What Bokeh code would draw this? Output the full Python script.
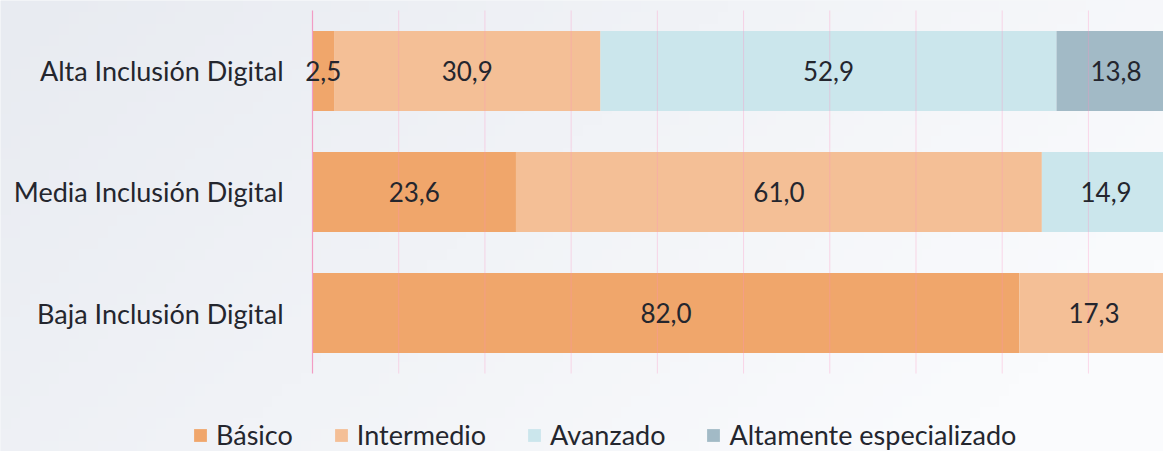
import numpy as np
from bokeh.plotting import figure
from bokeh.models import ColumnDataSource, Legend, LegendItem
from bokeh.core.properties import value
from bokeh.embed import file_html
from bokeh.resources import INLINE

categories = ["Alta Inclusión Digital", "Media Inclusión Digital", "Baja Inclusión Digital"]
series = ["Básico", "Intermedio", "Avanzado", "Altamente especializado"]
basico = [2.5, 23.6, 82.0]
intermedio = [30.9, 61.0, 17.3]
avanzado = [52.9, 14.9, 0.0]
altamente = [13.8, 0.0, 0.0]
colors = ["#F0A66B", "#F4BF96", "#CBE6EC", "#A2BAC6"]
grid_ticks = [10, 20, 30, 40, 50, 60, 70, 80, 90]

FONT = "Lato"
FS = "26px"
FS_AX = "27px"
TXT = "#24262e"
BG = "#eef1f5"

n = len(categories)
ypos = [n - 1 - i for i in range(n)]  # top to bottom

data = {"y": ypos, "Básico": basico, "Intermedio": intermedio,
        "Avanzado": avanzado, "Altamente especializado": altamente}
src = ColumnDataSource(data)

# frame = whole canvas; 0 % sits 312 px from the left, 8.622 px per unit
X0, X1 = -36.19, 98.71
Y0, Y1 = -1.1446, 2.5826
p = figure(width=1163, height=451, output_backend="svg", toolbar_location=None,
           x_range=(X0, X1), y_range=(Y0, Y1), min_border=0)
p.background_fill_color = BG
p.border_fill_color = BG
p.outline_line_color = None
p.xaxis.visible = False
p.yaxis.visible = False
p.xgrid.visible = False
p.ygrid.visible = False

# soft background gradient (darker at left, lighter at bottom right)
W, H = 120, 40
u = np.linspace(0, 1, W)[None, :]
v = np.linspace(0, 1, H)[:, None]  # row 0 = bottom
t = np.clip(0.8 * u + 0.35 * (1 - v), 0, 1)
c0 = np.array([232, 235, 241])
c1 = np.array([250, 251, 253])
rgb = c0[None, None, :] + (c1 - c0)[None, None, :] * t[:, :, None]
img = np.zeros((H, W), dtype=np.uint32)
view = img.view(dtype=np.uint8).reshape((H, W, 4))
view[:, :, 0] = rgb[:, :, 0]
view[:, :, 1] = rgb[:, :, 1]
view[:, :, 2] = rgb[:, :, 2]
view[:, :, 3] = 255
p.image_rgba(image=[img], x=X0, y=Y0, dw=X1 - X0, dh=Y1 - Y0, level="image")

renderers = p.hbar_stack(series, y="y", height=0.66, color=colors, source=src,
                         line_color=None)

# vertical grid lines (drawn faintly over the bars) and the axis line at 0
p.segment(x0=grid_ticks, y0=-0.5, x1=grid_ticks, y1=n - 0.5,
          line_color="#ff8fc0", line_alpha=0.32, line_width=1)
p.segment(x0=[0], y0=-0.5, x1=[0], y1=n - 0.5,
          line_color="#f29cc4", line_width=1.2)

# value labels at segment centres
lx, ly, lt = [], [], []
cols = [basico, intermedio, avanzado, altamente]
for i in range(n):
    left = 0.0
    for vals in cols:
        v_ = vals[i]
        if v_ > 0:
            lx.append(left + v_ / 2)
            ly.append(ypos[i])
            lt.append(f"{v_:.1f}".replace(".", ","))
        left += v_
p.text(x=lx, y=ly, text=lt, text_align="center", text_baseline="middle",
       text_font=value(FONT), text_font_size=FS, text_color=TXT)

# category labels (left axis)
p.text(x=[0] * n, y=ypos, text=categories, x_offset=-29,
       text_align="right", text_baseline="middle",
       text_font=value(FONT), text_font_size=FS_AX, text_color=TXT)

legend = Legend(items=[LegendItem(label=s, renderers=[r]) for s, r in zip(series, renderers)],
                orientation="horizontal", location=(192, 0),
                glyph_width=16, glyph_height=16, label_standoff=8, spacing=40,
                padding=0, margin=0, border_line_color=None,
                background_fill_alpha=0,
                label_text_font=FONT, label_text_font_size=FS_AX, label_text_color=TXT)
p.add_layout(legend, "center")

open("out.html", "w").write(file_html(p, INLINE))
